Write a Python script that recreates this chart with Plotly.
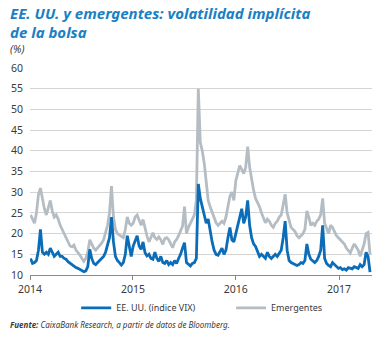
import pandas as pd
import plotly.graph_objects as go

# Weekly readings (Fridays) from 2014-01-03
vix_2014 = [14, 12.8, 13, 13.5, 16, 21, 15.5, 15, 15.5, 15, 16.5, 15.5, 14.5, 15, 15.5, 14.5,
            14.5, 14, 13.8, 13.2, 12.8, 12.4, 12, 11.8, 11.6, 11.3, 11.2, 10.8, 11, 12, 16.2, 14,
            12.8, 12.5, 13, 13.5, 14, 14.5, 15.5, 17, 19, 24, 18, 14.5, 13.5, 13, 12.4, 13,
            15, 19.5, 17, 14.5]
vix_2015 = [17, 18.5, 19.5, 17, 16.2, 18, 15.4, 14.6, 15, 14, 13.8, 15.5, 14, 13.3, 14.5, 13,
            12.8, 13.5, 12.5, 13, 12.5, 13.5, 12.8, 14, 15, 16.5, 17.8, 13, 12.5, 12.2, 12.8, 13,
            14, 32, 28.5, 26.5, 24, 22.5, 23.5, 20.5, 18, 16, 15, 14.8, 15.5, 16.5, 15, 16,
            19, 21.5, 18.5, 18]
vix_2016 = [20, 22, 24, 26, 22.5, 24, 28, 22, 19, 17.5, 16.9, 15.5, 14.5, 15, 14.5, 14,
            15.5, 14.5, 14, 14.5, 15, 14.5, 15.2, 16, 19, 23, 16, 13.5, 13, 12.8, 12.5, 12.3,
            12.5, 13, 12.8, 13.5, 17.5, 15, 13.8, 13.5, 13, 13.5, 14.5, 16, 22, 14, 12.8, 12.3,
            12, 13, 12.5, 12]
vix_2017 = [11.6, 11.8, 11.3, 11.5, 11.2, 11.8, 11.6, 11.5, 12, 11.8, 11.6, 12.5, 12, 12.5,
            15.5, 14.5, 10.7]

em_2014 = [24.5, 23.5, 22.5, 25, 29.5, 31, 28, 26, 24.5, 26, 28, 25.5, 24, 24.5, 23.5, 22,
           21, 20, 19, 18, 17, 16.8, 17.2, 16, 15.5, 14.8, 14, 13.3, 14, 15.5, 18.5, 17.5,
           16.5, 16, 16.5, 17, 17.7, 18.5, 20, 22, 25, 31.5, 24, 21, 20, 19.7, 19.5, 19,
           21, 24, 22.5, 22]
em_2015 = [22.5, 24, 24.5, 23, 22, 23.4, 21, 19.4, 18, 19, 20.2, 19, 18.6, 19.2, 18.5, 17.4,
           18.8, 19, 18.5, 17.5, 16.6, 18, 18.6, 19.5, 20.5, 21.8, 26.5, 20, 21.5, 22.5, 23.4, 24.5,
           28, 55, 42, 40, 37, 33, 28, 26.5, 25, 23.5, 22.6, 22, 22.5, 23, 22.5, 24,
           26.5, 29, 30, 28]
em_2016 = [32.8, 35, 36.4, 35.5, 34.5, 36, 41, 36, 33, 30.5, 28.5, 27.5, 26.5, 25, 24, 22.6,
           23.5, 23, 22, 21.5, 22.5, 23, 24, 24.5, 27, 29.5, 25, 23, 21.5, 21, 20.5, 19.5,
           19, 19.5, 20, 21, 25.5, 24, 22, 22.5, 22, 23, 23.5, 24.5, 28.5, 22.5, 21, 20,
           22, 21.5, 20.5, 19.5]
em_2017 = [19, 18.5, 18, 17.5, 16.5, 16, 15.3, 16.5, 17.5, 16.8, 16, 14.5, 16, 17.5,
           20, 20.3, 15]

vix = vix_2014 + vix_2015 + vix_2016 + vix_2017
em = em_2014 + em_2015 + em_2016 + em_2017
dates = pd.date_range("2014-01-03", periods=len(vix), freq="W-FRI")

x_ticks = ["2014-01-01", "2015-01-01", "2016-01-01", "2017-01-01"]
x_labels = ["2014", "2015", "2016", "2017"]
y_ticks = [10, 15, 20, 25, 30, 35, 40, 45, 50, 55, 60]

BLUE = "#0b6db7"
GRAY = "#b5bdc4"
TXT = "#3a3a3a"
FONT = "Noto Sans"

fig = go.Figure()
fig.add_trace(go.Scatter(x=dates, y=em, mode="lines", name="Emergentes",
                         line=dict(color=GRAY, width=2.8), legend="legend2"))
fig.add_trace(go.Scatter(x=dates, y=vix, mode="lines", name="EE. UU. (índice VIX)",
                         line=dict(color=BLUE, width=2.8), legend="legend"))

leg_common = dict(orientation="h", xanchor="left", y=-0.159, yanchor="middle",
                  font=dict(size=9, color=TXT), itemwidth=30, bgcolor="rgba(0,0,0,0)")

fig.update_layout(
    width=379, height=338,
    margin=dict(l=30, r=7, t=68, b=63),
    paper_bgcolor="white", plot_bgcolor="white",
    font=dict(family=FONT, size=10, color=TXT),
    showlegend=True,
    legend=dict(x=0.135, **leg_common),
    legend2=dict(x=0.588, **leg_common),
    xaxis=dict(range=["2014-01-01", "2017-04-28"], tickvals=x_ticks, ticktext=x_labels,
               showgrid=False, showline=True, linecolor="#8a8a8a", linewidth=1,
               ticks="outside", ticklen=4, tickcolor="#8a8a8a",
               tickfont=dict(size=10.5, color=TXT), zeroline=False),
    yaxis=dict(range=[10, 60], tickvals=y_ticks, showgrid=True, gridcolor="#d4d4d4",
               gridwidth=1, showline=False, zeroline=False, ticks="",
               ticklabelstandoff=6, tickfont=dict(size=10.5, color=TXT)),
)

title_font = dict(family=FONT, size=15, color="#1a80c4")
fig.add_annotation(text="<b><i>EE. UU. y emergentes: volatilidad implícita</i></b>",
                   xref="paper", yref="paper", x=-0.065, y=1.268, xanchor="left", yanchor="middle",
                   showarrow=False, font=title_font)
fig.add_annotation(text="<b><i>de la bolsa</i></b>",
                   xref="paper", yref="paper", x=-0.065, y=1.174, xanchor="left", yanchor="middle",
                   showarrow=False, font=title_font)
fig.add_annotation(text="<i>(%)</i>", xref="paper", yref="paper", x=-0.065, y=1.092,
                   xanchor="left", yanchor="middle", showarrow=False,
                   font=dict(family=FONT, size=10.5, color=TXT))
fig.add_annotation(text="<b><i>Fuente:</i></b><i> CaixaBank Research, a partir de datos de Bloomberg.</i>",
                   xref="paper", yref="paper", x=-0.065, y=-0.2415, xanchor="left", yanchor="middle",
                   showarrow=False, font=dict(family=FONT, size=8, color=TXT))

fig.write_html("out.html")
